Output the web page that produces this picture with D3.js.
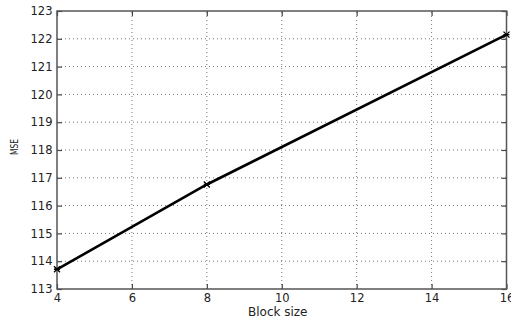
<!DOCTYPE html>
<html><head><meta charset="utf-8">
<script src="https://cdn.jsdelivr.net/npm/d3@7"></script>
<style>body{margin:0;background:#fff}svg{display:block}text{font-family:"DejaVu Sans",Arial,sans-serif}</style>
</head><body><svg id="c" width="511" height="320"></svg>
<script>
const blockSizes = [4, 8, 16];
const mseValues = [113.71, 116.76, 122.15];
const xTicks = [4, 6, 8, 10, 12, 14, 16];
const yTicks = [113, 114, 115, 116, 117, 118, 119, 120, 121, 122, 123];

const svg = d3.select("#c");
const m = {l: 57, r: 4.5, t: 11, b: 31};
const W = 511, H = 320;
const x = d3.scaleLinear().domain([4, 16]).range([m.l, W - m.r]);
const y = d3.scaleLinear().domain([113, 123]).range([H - m.b, m.t]);

const g = svg.append("g");
// grid
g.selectAll(".gx").data(xTicks.slice(1, -1)).join("line")
  .attr("x1", d => x(d)).attr("x2", d => x(d)).attr("y1", y(113)).attr("y2", y(123))
  .attr("stroke", "#777").attr("stroke-width", 1).attr("stroke-dasharray", "1,3");
g.selectAll(".gy").data(yTicks.slice(1, -1)).join("line")
  .attr("y1", d => y(d)).attr("y2", d => y(d)).attr("x1", x(4)).attr("x2", x(16))
  .attr("stroke", "#777").attr("stroke-width", 1).attr("stroke-dasharray", "1,3");

// axes
const axB = d3.axisBottom(x).tickValues(xTicks).tickSize(-5).tickPadding(5).tickFormat(d3.format("d"));
const axT = d3.axisTop(x).tickValues(xTicks).tickSize(-5).tickFormat("");
const axL = d3.axisLeft(y).tickValues(yTicks).tickSize(-5).tickPadding(4.5).tickFormat(d3.format("d"));
const axR = d3.axisRight(y).tickValues(yTicks).tickSize(-5).tickFormat("");
function style(sel) {
  sel.select(".domain").attr("stroke", "#555").attr("stroke-width", 1.5);
  sel.selectAll(".tick line").attr("stroke", "#444").attr("stroke-width", 1.2);
  sel.selectAll(".tick text").attr("fill", "#222").style("font-size", "11.5px")
    .style("font-family", '"DejaVu Sans", Arial, sans-serif');
}
svg.append("g").attr("transform", `translate(0,${y(113)})`).call(axB).call(style);
svg.append("g").attr("transform", `translate(0,${y(123)})`).call(axT).call(style);
svg.append("g").attr("transform", `translate(${x(4)},0)`).call(axL).call(style);
svg.append("g").attr("transform", `translate(${x(16)},0)`).call(axR).call(style);
svg.selectAll(".domain").attr("d", null);
svg.append("rect").attr("x", x(4)).attr("y", y(123)).attr("width", x(16) - x(4)).attr("height", y(113) - y(123))
  .attr("fill", "none").attr("stroke", "#555").attr("stroke-width", 1.5);

// line
const pts = blockSizes.map((b, i) => [b, mseValues[i]]);
svg.append("path").datum(pts)
  .attr("d", d3.line().x(d => x(d[0])).y(d => y(d[1])))
  .attr("fill", "none").attr("stroke", "#000").attr("stroke-width", 2.6);
// markers
const mk = svg.append("g");
pts.forEach(p => {
  const cx = x(p[0]), cy = y(p[1]), s = 3;
  mk.append("path").attr("d", `M${cx-s},${cy-s}L${cx+s},${cy+s}M${cx-s},${cy+s}L${cx+s},${cy-s}M${cx-s},${cy}L${cx+s},${cy}`)
    .attr("stroke", "#000").attr("stroke-width", 1.3);
});

// labels
svg.append("text").attr("x", (x(4) + x(16)) / 2 - 4).attr("y", 316).attr("text-anchor", "middle")
  .style("font-size", "12px").attr("fill", "#222").text("Block size");
svg.append("text").attr("transform", `translate(17.5,${(y(113) + y(123)) / 2 - 3}) rotate(-90)`).attr("text-anchor", "middle")
  .style("font-size", "10px").attr("textLength", 16).attr("lengthAdjust", "spacingAndGlyphs")
  .attr("fill", "#222").text("MSE");
</script></body></html>
